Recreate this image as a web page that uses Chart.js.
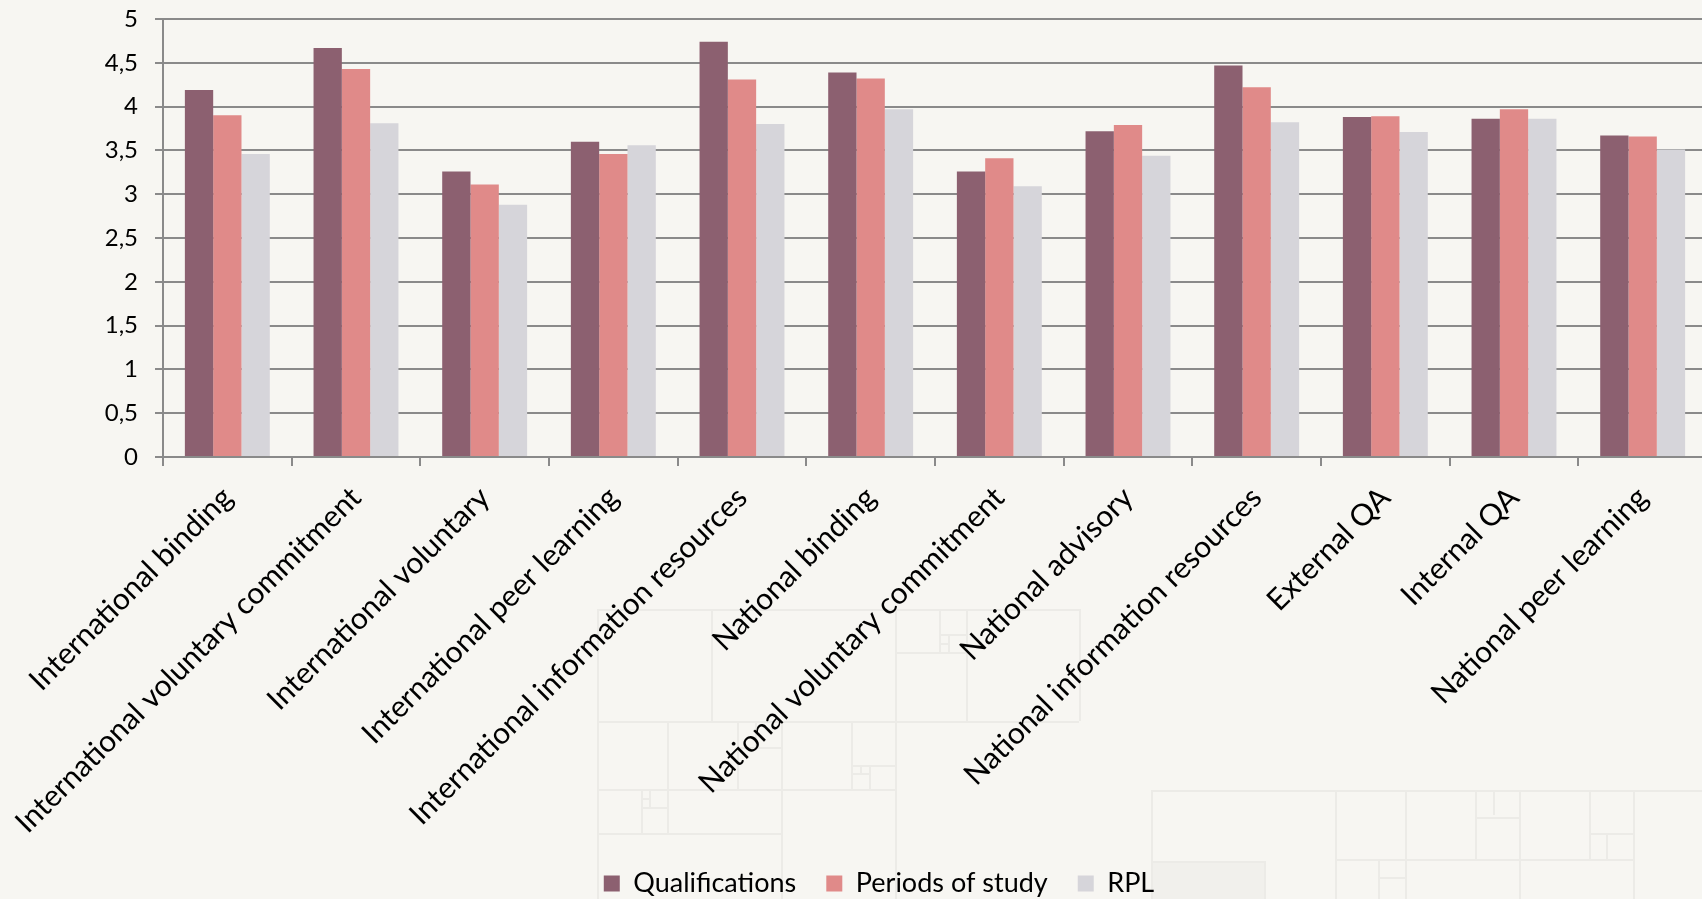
<!DOCTYPE html>
<html>
<head>
<meta charset="utf-8">
<script src="https://cdn.jsdelivr.net/npm/chart.js@4"></script>
<style>
  html, body { margin: 0; padding: 0; background: #f7f6f2; overflow: hidden; }
  #deco { position: absolute; left: 0; top: 0; width: 1702px; height: 899px; }
  #deco div { position: absolute; background: #ecebe7; }
  #deco .fill { background: #f1f0ec; border: 2px solid #ecebe7; box-sizing: border-box; }
  #wrap { position: absolute; left: 0; top: 0; }
</style>
</head>
<body>
<div id="deco"></div>
<div id="wrap"><canvas id="chart" width="1710" height="899"></canvas></div>
<script>
const categories = [
  "International binding",
  "International voluntary commitment",
  "International voluntary",
  "International peer learning",
  "International information resources",
  "National binding",
  "National voluntary commitment",
  "National advisory",
  "National information resources",
  "External QA",
  "Internal QA",
  "National peer learning",
];
const qualifications = [4.19, 4.67, 3.26, 3.60, 4.74, 4.39, 3.26, 3.72, 4.47, 3.88, 3.86, 3.67];
const periodsOfStudy = [3.90, 4.43, 3.11, 3.46, 4.31, 4.32, 3.41, 3.79, 4.22, 3.89, 3.97, 3.66];
const rpl = [3.46, 3.81, 2.88, 3.56, 3.80, 3.97, 3.09, 3.44, 3.82, 3.71, 3.86, 3.51];
const yTickLabels = ["0", "0,5", "1", "1,5", "2", "2,5", "3", "3,5", "4", "4,5", "5"];

// faint square pattern behind the chart: [x1, y1, x2, y2]
const decoLines = [
  [597, 609, 1079, 609], [597, 721, 1079, 721], [597, 789, 895, 789], [597, 833, 781, 833],
  [895, 652, 966, 652], [851, 765, 895, 765], [737, 747, 781, 747], [641, 807, 667, 807],
  [939, 634, 966, 634], [939, 643, 948, 643], [851, 773, 869, 773], [641, 798, 649, 798],
  [597, 609, 597, 899], [711, 609, 711, 721], [895, 609, 895, 899], [966, 609, 966, 721],
  [1079, 609, 1079, 721], [781, 721, 781, 899], [667, 721, 667, 833], [737, 721, 737, 789],
  [851, 721, 851, 789], [939, 609, 939, 652], [948, 634, 948, 652], [869, 765, 869, 789],
  [860, 765, 860, 773], [755, 721, 755, 747], [641, 789, 641, 833], [649, 789, 649, 807],
  [1151, 790, 1702, 790], [1335, 859, 1633, 859], [1475, 817, 1519, 817], [1589, 833, 1633, 833],
  [1378, 877, 1405, 877], [1151, 790, 1151, 899], [1335, 790, 1335, 899], [1405, 790, 1405, 899],
  [1475, 790, 1475, 859], [1519, 790, 1519, 899], [1589, 790, 1589, 859], [1633, 790, 1633, 899],
  [1493, 790, 1493, 815], [1378, 859, 1378, 899], [1606, 833, 1606, 859],
];
const deco = document.getElementById("deco");
decoLines.forEach(([x1, y1, x2, y2]) => {
  const d = document.createElement("div");
  d.style.left = x1 + "px";
  d.style.top = y1 + "px";
  d.style.width = Math.max(x2 - x1, 2) + "px";
  d.style.height = Math.max(y2 - y1, 2) + "px";
  deco.appendChild(d);
});
const box = document.createElement("div");
box.className = "fill";
Object.assign(box.style, { left: "1151px", top: "861px", width: "115px", height: "40px" });
deco.appendChild(box);

const tickFont = { family: "Lato", size: 24 };
const labelFont = { family: "Lato", size: 30 };
const legendFont = { family: "Lato", size: 27 };
const lineGrey = "#8a8a8a";

new Chart(document.getElementById("chart"), {
  type: "bar",
  data: {
    labels: categories,
    datasets: [
      { label: "Qualifications", data: qualifications, backgroundColor: "#8c6070" },
      { label: "Periods of study", data: periodsOfStudy, backgroundColor: "#e08a89" },
      { label: "RPL", data: rpl, backgroundColor: "#d6d5da" },
    ],
  },
  options: {
    responsive: false,
    animation: false,
    devicePixelRatio: 1,
    datasets: { bar: { categoryPercentage: 0.66, barPercentage: 1 } },
    layout: { padding: { left: 51, right: 3, top: 19, bottom: -8 } },
    plugins: {
      legend: {
        position: "bottom",
        labels: { boxWidth: 16, boxHeight: 16, padding: 30, color: "#000", font: legendFont },
      },
      tooltip: { enabled: false },
    },
    scales: {
      x: {
        grid: { offset: true, drawOnChartArea: false, color: lineGrey, lineWidth: 2, tickLength: 9 },
        border: { color: lineGrey, width: 2 },
        ticks: { minRotation: 45, maxRotation: 45, autoSkip: false, padding: 14, color: "#000", font: labelFont },
        afterFit: (s) => { s.height = 383; },
      },
      y: {
        min: 0,
        max: 5,
        grid: { color: lineGrey, lineWidth: 2, tickLength: 8 },
        border: { color: lineGrey, width: 2 },
        ticks: {
          stepSize: 0.5,
          padding: 17,
          color: "#000",
          font: tickFont,
          callback: (v, i) => yTickLabels[i],
        },
        afterFit: (s) => {
          s.width = 112;
          s.paddingTop = 0;
          s.paddingBottom = 0;
        },
      },
    },
  },
});
</script>
</body>
</html>
